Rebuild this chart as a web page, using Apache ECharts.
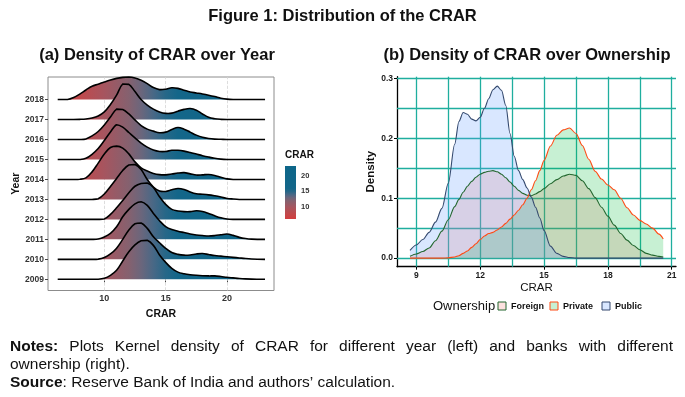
<!DOCTYPE html>
<html><head><meta charset="utf-8">
<script src="https://cdn.jsdelivr.net/npm/echarts@6/dist/echarts.min.js"></script>
<style>html,body{margin:0;padding:0;background:#fff}#c{width:685px;height:397px}</style>
</head><body><div id="c"></div>
<script>
// ---------- Data: (a) ridgeline densities by year (height in ridge-spacing units) ----------
const years = ['2009','2010','2011','2012','2013','2014','2015','2016','2017','2018'];
const ridgeX = [6.2,7,7.5,8,8.5,9,9.5,10,10.5,11,11.5,12,12.5,13,13.5,14,14.5,15,15.5,16,16.5,17,17.5,18,18.5,19,19.5,20,20.5,21,21.5,22,23.1];
const d2009 = [0,0,0,0,0,0,0,.05,.2,.45,.92,1.38,1.72,1.93,1.95,1.7,1.22,.85,.55,.36,.28,.23,.2,.18,.17,.17,.14,.1,.07,.04,.02,.01,0];
const d2010 = [0,0,0,0,0,0,.01,.09,.27,.56,1.0,1.47,1.78,1.82,1.55,1.13,.83,.55,.34,.25,.21,.22,.27,.29,.24,.19,.16,.13,.1,.07,.04,.02,0];
const d2011 = [0,0,0,0,0,0,.02,.12,.3,.63,1.13,1.5,1.78,1.88,1.7,1.3,.93,.64,.49,.41,.34,.27,.22,.19,.17,.19,.23,.27,.2,.1,.04,.01,0];
const d2012 = [0,0,0,0,0,0,0,.02,.25,.58,.95,1.33,1.66,1.8,1.82,1.6,1.13,.75,.5,.42,.39,.39,.43,.4,.3,.18,.08,.02,0,0,0,0,0];
const d2013 = [0,0,0,0,0,0,.03,.27,.65,1.05,1.45,1.72,1.75,1.5,1.0,.62,.42,.4,.48,.55,.5,.37,.28,.26,.23,.18,.12,.05,.02,0,0,0,0];
const d2014 = [0,0,0,.01,.08,.38,.82,1.28,1.6,1.67,1.57,1.28,.88,.58,.42,.3,.24,.23,.27,.32,.34,.28,.22,.23,.25,.2,.11,.03,0,0,0,0,0];
const d2015 = [0,0,0,0,.06,.26,.55,.95,1.38,1.74,1.62,1.35,1.08,.82,.62,.47,.4,.4,.46,.46,.42,.35,.27,.19,.12,.06,.02,0,0,0,0,0,0];
const d2016 = [0,0,0,0,.03,.18,.4,.73,1.13,1.52,1.5,1.28,.98,.7,.52,.42,.34,.37,.5,.6,.52,.37,.22,.11,.05,.02,.01,0,0,0,0,0,0];
const d2017 = [0,0,0,.01,.03,.08,.18,.38,.75,1.22,1.78,1.76,1.4,1.0,.72,.52,.38,.31,.32,.42,.51,.55,.47,.28,.11,.04,.01,0,0,0,0,0,0];
const d2018 = [0,0,.1,.27,.48,.67,.77,.88,.98,1.06,1.11,1.13,1.08,.97,.8,.6,.5,.52,.59,.56,.47,.38,.33,.28,.22,.15,.07,.02,0,0,0,0,0];
const ridgeXTicks = [10,15,20];
const colorbarTicks = [10,15,20];

// ---------- Data: (b) densities by ownership ----------
const ownX = [8.7,9.0,9.3,9.6,9.9,10.2,10.5,10.8,11.0,11.2,11.4,11.6,11.8,12.0,12.2,12.4,12.6,12.8,13.0,13.2,13.4,13.6,13.8,14.0,14.2,14.4,14.6,14.8,15.0,15.3,15.6,15.9,16.2,16.5,16.8,17.1,17.4,17.7,18.0,18.3,18.6,18.9,19.2,19.5,19.8,20.1,20.4,20.6];
const foreignD = [.003,.007,.011,.017,.029,.045,.064,.086,.098,.11,.12,.128,.135,.14,.143,.145,.146,.144,.14,.134,.127,.12,.113,.108,.105,.104,.107,.111,.116,.124,.131,.137,.14,.138,.129,.116,.101,.085,.07,.055,.041,.03,.021,.014,.008,.005,.003,.002];
const privateD = [0,0,0,0,0,0,.0005,.002,.004,.008,.012,.018,.024,.031,.037,.041,.043,.047,.052,.058,.065,.072,.08,.089,.1,.114,.129,.146,.163,.187,.205,.214,.217,.208,.188,.165,.145,.132,.122,.114,.1,.084,.072,.063,.057,.05,.04,.032];
const publicD = [.013,.022,.031,.043,.06,.083,.125,.19,.228,.243,.24,.232,.229,.235,.25,.266,.281,.287,.28,.255,.208,.17,.146,.131,.117,.102,.085,.067,.046,.02,.008,.003,.001,0,0,0,0,0,0,0,0,0,0,0,0,0,0,0];
const ownNames = ['Foreign','Private','Public'];
const ownXTicks = [9,12,15,18,21];
const ownYTicks = [0,0.1,0.2,0.3];
const ownXGrid = [9,10.5,12,13.5,15,16.5,18,19.5,21];
const ownYGrid = [0,0.05,0.1,0.15,0.2,0.25,0.3];

// ---------- Styles ----------
const FONT = '"Liberation Sans", Arial, sans-serif';
const fillStops = [[6.2,'#d23d3e'],[8,'#c0494c'],[10,'#a6555f'],[12,'#85616f'],[13,'#6b667c'],[14,'#486886'],[15,'#266788'],[16,'#136689'],[23.1,'#0d6689']];
const ownLine = ['#23672f','#ff4a14','#34496e'];
const ownFill = ['rgba(248,118,109,0.22)','rgba(0,186,56,0.22)','rgba(97,156,255,0.24)'];

const yearDens = [d2009,d2010,d2011,d2012,d2013,d2014,d2015,d2016,d2017,d2018];
const xLo = ridgeX[0], xHi = ridgeX[ridgeX.length-1];
const stopsN = fillStops.map(s => ({offset:(s[0]-xLo)/(xHi-xLo), color:s[1]}));

const ridgeData = [];
for (let k = years.length-1; k >= 0; k--) ridgeData.push([xLo, k]);

function ridgeItem(params, api){
  const k = api.value(1);
  const dens = yearDens[k];
  const pts = ridgeX.map((x,i) => api.coord([x, k + dens[i]]));
  const a = api.coord([xLo, 0])[0], b = api.coord([xHi, 0])[0];
  const grad = new echarts.graphic.LinearGradient(a, 0, b, 0, stopsN, true);
  const cons = [pts[0].slice(), pts[pts.length-1].slice()];
  return {type:'group', children:[
    {type:'polygon', shape:{points:pts, smooth:0.35, smoothConstraint:cons}, style:{fill:grad, stroke:null}},
    {type:'polyline', shape:{points:pts, smooth:0.35, smoothConstraint:cons}, style:{stroke:'#000', lineWidth:1.6, fill:null}}
  ]};
}
function barItem(params, api){
  const p0 = api.coord([0, xHi]);
  const p1 = api.coord([1, xLo]);
  const grad = new echarts.graphic.LinearGradient(0, 1, 0, 0, stopsN, false);
  return {type:'rect', shape:{x:p0[0], y:p0[1], width:p1[0]-p0[0], height:p1[1]-p0[1]}, style:{fill:grad}};
}

const ownData = [foreignD, privateD, publicD];
const ownSeries = ownNames.map((n,j) => ({
  type:'line', name:n, xAxisIndex:1, yAxisIndex:1, z:3,
  data: ownX.map((x,i) => [x, ownData[j][i]]),
  smooth:0.3, smoothMonotone:'x', symbol:'none', silent:true,
  lineStyle:{color:ownLine[j], width:1.1},
  areaStyle:{color:ownFill[j], opacity:1}
}));

// ---------- Notes text justification ----------
const ctx = document.createElement('canvas').getContext('2d');
function tw(t, bold, size){ ctx.font = (bold?'bold ':'') + size + 'px "Liberation Sans"'; return ctx.measureText(t).width; }
const NOTE_SIZE = 15.5;
const line1 = 'Notes: Plots Kernel density of CRAR for different year (left) and banks with different'.split(' ');
const noteEls = [];
(function(){
  const L = 10, R = 673;
  const ws = line1.map((w,i) => tw(w, i===0, NOTE_SIZE));
  const sum = ws.reduce((s,v)=>s+v,0);
  const gap = (R-L-sum)/(line1.length-1);
  let x = L;
  line1.forEach((w,i) => {
    noteEls.push({type:'text', x:x, y:347, style:{text:w, font:(i===0?'bold ':'')+NOTE_SIZE+'px '+FONT, fill:'#111', verticalAlign:'middle'}});
    x += ws[i] + gap;
  });
})();
noteEls.push({type:'text', x:10, y:365, style:{text:'ownership (right).', font:NOTE_SIZE+'px '+FONT, fill:'#111', verticalAlign:'middle'}});
noteEls.push({type:'text', x:10, y:383, style:{text:'{b|Source}: Reserve Bank of India and authors\u2019 calculation.', font:NOTE_SIZE+'px '+FONT, fill:'#111', verticalAlign:'middle', rich:{b:{fontWeight:'bold', fontSize:NOTE_SIZE, fontFamily:FONT, fill:'#111'}}}});

// legend for ownership
const legEls = [
  {type:'text', x:433, y:306, style:{text:'Ownership', font:'13px '+FONT, fill:'#111', verticalAlign:'middle'}}
];
const legX = [498, 550, 602];
ownNames.forEach((n,j) => {
  legEls.push({type:'rect', shape:{x:legX[j], y:302, width:8, height:8}, style:{fill:ownFill[j], stroke:ownLine[j], lineWidth:1}});
  legEls.push({type:'text', x:legX[j]+13, y:306.5, style:{text:n, font:'bold 9px '+FONT, fill:'#111', verticalAlign:'middle'}});
});

const option = {
  animation:false,
  backgroundColor:'#fff',
  textStyle:{fontFamily:FONT},
  grid:[
    {left:48, top:77, width:226, height:213.5, show:true, borderColor:'#8c8c8c', borderWidth:1, backgroundColor:'transparent'},
    {left:397, top:76.7, width:279, height:190},
    {left:285, top:166, width:11, height:53}
  ],
  xAxis:[
    {gridIndex:0, type:'value', min:5.41, max:23.83, axisLine:{show:false}, splitLine:{show:false},
     axisTick:{show:true, customValues:ridgeXTicks, length:3, lineStyle:{color:'#444'}},
     axisLabel:{customValues:ridgeXTicks, fontSize:9, fontWeight:'bold', color:'#333', margin:4, fontFamily:FONT},
     name:'CRAR', nameLocation:'middle', nameGap:18, nameTextStyle:{fontSize:10.5, fontWeight:'bold', color:'#111', fontFamily:FONT}},
    {gridIndex:1, type:'value', min:8.09, max:21.2, splitLine:{show:false},
     axisLine:{show:true, onZero:false, lineStyle:{color:'#000', width:1.3}},
     axisTick:{show:true, customValues:ownXTicks, length:3, lineStyle:{color:'#000'}},
     axisLabel:{customValues:ownXTicks, fontSize:8.5, fontWeight:'bold', color:'#1a1a1a', margin:4, fontFamily:FONT},
     name:'CRAR', nameLocation:'middle', nameGap:15, nameTextStyle:{fontSize:11.5, color:'#111', fontFamily:FONT}},
    {gridIndex:2, type:'value', min:0, max:1, show:false}
  ],
  yAxis:[
    {gridIndex:0, type:'value', min:-0.56, max:10.13, axisLine:{show:false}, splitLine:{show:false},
     axisTick:{show:true, customValues:[0,1,2,3,4,5,6,7,8,9], length:3, lineStyle:{color:'#444'}},
     axisLabel:{customValues:[0,1,2,3,4,5,6,7,8,9], formatter:v => years[Math.round(v)], fontSize:8.5, fontWeight:'bold', color:'#333', margin:4, fontFamily:FONT},
     name:'Year', nameLocation:'middle', nameGap:25, nameRotate:90, nameTextStyle:{fontSize:10.5, fontWeight:'bold', color:'#111', fontFamily:FONT}},
    {gridIndex:1, type:'value', min:-0.0143, max:0.3027, splitLine:{show:false},
     axisLine:{show:true, onZero:false, lineStyle:{color:'#000', width:1.3}},
     axisTick:{show:true, customValues:ownYTicks, length:3, lineStyle:{color:'#000'}},
     axisLabel:{customValues:ownYTicks, formatter:v => v.toFixed(1), fontSize:8.5, fontWeight:'bold', color:'#1a1a1a', margin:4, fontFamily:FONT},
     name:'Density', nameLocation:'middle', nameGap:19, nameRotate:90, nameTextStyle:{fontSize:11.5, fontWeight:'bold', color:'#111', fontFamily:FONT}},
    {gridIndex:2, type:'value', min:xLo, max:xHi, position:'right', axisLine:{show:false}, axisTick:{show:false}, splitLine:{show:false},
     axisLabel:{customValues:colorbarTicks, fontSize:7.5, fontWeight:'bold', color:'#333', margin:5, fontFamily:FONT}}
  ],
  series:[
    {type:'line', xAxisIndex:0, yAxisIndex:0, data:[], z:1, silent:true,
     markLine:{z:1, symbol:'none', silent:true, animation:false, label:{show:false}, lineStyle:{color:'#d4d4d4', width:0.8, type:'dashed'},
       data: ridgeXTicks.map(v => ({xAxis:v}))}},
    {type:'custom', xAxisIndex:0, yAxisIndex:0, z:2, silent:true, data:ridgeData, renderItem:ridgeItem, clip:false},
    {type:'line', xAxisIndex:1, yAxisIndex:1, data:[], z:1, silent:true,
     markLine:{z:1, symbol:'none', silent:true, animation:false, label:{show:false}, lineStyle:{color:'#1fae9e', width:1.3, type:'solid'},
       data: ownXGrid.map(v => ({xAxis:v})).concat(ownYGrid.map(v => ({yAxis:v})))}},
    ...ownSeries,
    {type:'custom', xAxisIndex:2, yAxisIndex:2, silent:true, data:[[0.5, xLo]], renderItem:barItem}
  ],
  graphic:[
    {type:'text', x:342.5, y:16, style:{text:'Figure 1: Distribution of the CRAR', font:'bold 16.5px '+FONT, fill:'#111', align:'center', verticalAlign:'middle'}},
    {type:'text', x:157, y:55, style:{text:'(a) Density of CRAR over Year', font:'bold 16.5px '+FONT, fill:'#111', align:'center', verticalAlign:'middle'}},
    {type:'text', x:527, y:55, style:{text:'(b) Density of CRAR over Ownership', font:'bold 16.5px '+FONT, fill:'#111', align:'center', verticalAlign:'middle'}},
    {type:'text', x:285, y:155, style:{text:'CRAR', font:'bold 10px '+FONT, fill:'#111', verticalAlign:'middle'}},
    ...legEls,
    ...noteEls
  ]
};
const chart = echarts.init(document.getElementById('c'));
chart.setOption(option);
</script></body></html>
